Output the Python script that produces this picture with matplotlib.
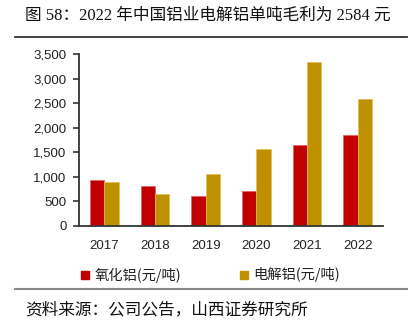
import matplotlib
matplotlib.use("Agg")
import matplotlib.pyplot as plt
import numpy as np
from matplotlib.lines import Line2D
from matplotlib.patches import Rectangle

years = ["2017", "2018", "2019", "2020", "2021", "2022"]
alumina = [936, 814, 610, 705, 1641, 1858]
electrolytic = [889, 645, 1051, 1574, 3350, 2584]
series_names = ["氧化铝(元/吨)", "电解铝(元/吨)"]
yticks = [0, 500, 1000, 1500, 2000, 2500, 3000, 3500]

plt.rcParams['font.family'] = ['Noto Sans CJK SC', 'DejaVu Sans']

W, H = 408, 328
fig = plt.figure(figsize=(W / 100, H / 100), dpi=100)
ax = fig.add_axes([79 / W, 1 - 226 / H, (383 - 79) / W, (226 - 54.3) / H])

x = np.arange(len(years))
bw = 0.285
ax.bar(x - bw / 2, alumina, bw, color="#C00000", edgecolor="#E06060", linewidth=0.5)
ax.bar(x + bw / 2, electrolytic, bw, color="#BF9000", edgecolor="#E0C050", linewidth=0.5)

ax.set_xlim(-0.5, 5.5)
ax.set_ylim(0, 3500)
ax.set_yticks(yticks)
ax.set_yticklabels([f"{v:,}" for v in yticks], fontsize=9.5, color="#222222",
                   family=['Liberation Sans', 'DejaVu Sans'])
ax.set_xticks(x)
ax.set_xticklabels(years, fontsize=9.5, color="#222222", family=['Liberation Sans', 'DejaVu Sans'])
ax.tick_params(axis='x', length=0, pad=10)
ax.tick_params(axis='y', length=4, width=1.2, color="#333333", pad=5, direction='out')
for s in ["top", "right"]:
    ax.spines[s].set_visible(False)
for s in ["left", "bottom"]:
    ax.spines[s].set_color("#333333")
    ax.spines[s].set_linewidth(1.3)

# Legend
fig.patches.append(Rectangle((81 / W, 1 - 279 / H), 8 / W, 8 / H, transform=fig.transFigure,
                             color="#C00000"))
fig.text(95 / W, 1 - 275 / H, series_names[0], fontsize=10.3, va='center', ha='left', color="#222222")
fig.patches.append(Rectangle((240 / W, 1 - 279 / H), 8 / W, 8 / H, transform=fig.transFigure,
                             color="#BF9000"))
fig.text(253 / W, 1 - 275 / H, series_names[1], fontsize=10.3, va='center', ha='left', color="#222222")

# Title
fig.text(25 / W, 1 - 16 / H, "图 58：2022 年中国铝业电解铝单吨毛利为 2584 元", fontsize=12,
         va='center', ha='left', color="#111111",
         family=['Liberation Serif', 'Noto Sans CJK SC'])
fig.add_artist(Line2D([15 / W, 407 / W], [1 - 36.5 / H, 1 - 36.5 / H], color="#333333", linewidth=1.3))
fig.add_artist(Line2D([15 / W, 407 / W], [1 - 289 / H, 1 - 289 / H], color="#888888", linewidth=1.5))
fig.text(25 / W, 1 - 310 / H, "资料来源：公司公告，山西证券研究所", fontsize=12,
         va='center', ha='left', color="#111111")

fig.savefig("out.png", dpi=100)
